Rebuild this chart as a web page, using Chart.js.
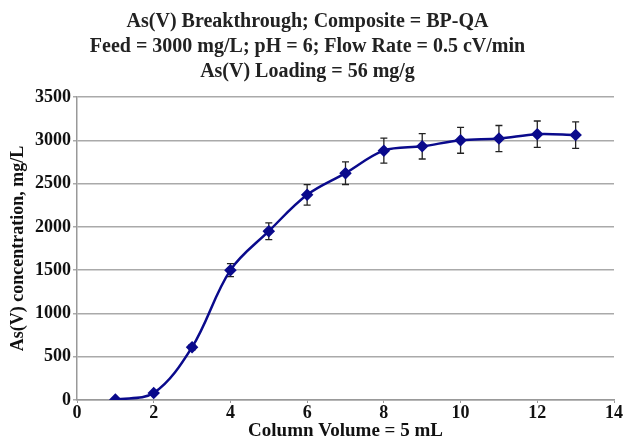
<!DOCTYPE html>
<html>
<head>
<meta charset="utf-8">
<script src="https://cdn.jsdelivr.net/npm/chart.js@4.4.1/dist/chart.umd.min.js"></script>
<style>
  html, body { margin: 0; padding: 0; background: #fff; }
  #wrap { width: 623px; height: 440px; }
</style>
</head>
<body>
<div id="wrap"><canvas id="breakChart" width="623" height="440"></canvas></div>
<script>
// column volumes and measured As(V) concentration (mg/L)
var columnVolumes = [1, 2, 3, 4, 5, 6, 7, 8, 9, 10, 11, 12, 13];
var concentration = [5, 80, 610, 1500, 1950, 2370, 2620, 2880, 2930, 3000, 3020, 3070, 3060];
// +/- error for each point
var errors = [0, 4, 30, 75, 97, 118, 131, 144, 146, 150, 151, 153, 153];

var titleLines = [
    'As(V) Breakthrough; Composite = BP-QA',
    'Feed = 3000 mg/L; pH = 6; Flow Rate = 0.5 cV/min',
    'As(V) Loading = 56 mg/g'
];

var serif = "'Liberation Serif', 'Times New Roman', serif";

// draws the vertical error bars using the chart's scales
var errorBars = {
    id: 'errorBars',
    beforeDatasetsDraw: function(chart) {
        var ctx = chart.ctx;
        var xs = chart.scales.x, ys = chart.scales.y;
        ctx.save();
        ctx.strokeStyle = '#222';
        ctx.lineWidth = 1.3;
        for (var i = 0; i < columnVolumes.length; i++) {
            if (!errors[i]) continue;
            var px = xs.getPixelForValue(columnVolumes[i]);
            var top = ys.getPixelForValue(concentration[i] + errors[i]);
            var bot = ys.getPixelForValue(concentration[i] - errors[i]);
            ctx.beginPath();
            ctx.moveTo(px, top); ctx.lineTo(px, bot);
            ctx.moveTo(px - 3.5, top); ctx.lineTo(px + 3.5, top);
            ctx.moveTo(px - 3.5, bot); ctx.lineTo(px + 3.5, bot);
            ctx.stroke();
        }
        ctx.restore();
    }
};

var ctx = document.getElementById('breakChart').getContext('2d');
var chart = new Chart(ctx, {
    type: 'line',
    data: {
        datasets: [{
            data: columnVolumes.map(function(v, i) { return { x: v, y: concentration[i] }; }),
            borderColor: '#0a0a8c',
            backgroundColor: '#0a0a8c',
            borderWidth: 2.5,
            pointStyle: 'rectRot',
            pointRadius: 4.5,
            tension: 0.35,
            fill: false
        }]
    },
    options: {
        responsive: false,
        animation: false,
        layout: { padding: { left: 0, right: 8, top: 0, bottom: 0 } },
        plugins: {
            legend: { display: false },
            tooltip: { enabled: false },
            title: {
                display: true,
                text: titleLines,
                color: '#222',
                font: { family: serif, size: 20, weight: 'bold', lineHeight: 1.25 },
                padding: { top: 9, bottom: 13 }
            }
        },
        scales: {
            x: {
                type: 'linear',
                min: 0,
                max: 14,
                ticks: {
                    stepSize: 2,
                    color: '#111',
                    padding: 0,
                    font: { family: serif, size: 18, weight: 'bold' }
                },
                grid: { drawOnChartArea: false, drawTicks: true, tickLength: 3, color: '#999' },
                border: { color: '#999', width: 1.5 },
                title: {
                    display: true,
                    text: 'Column Volume = 5 mL',
                    color: '#111',
                    padding: { top: 0, bottom: -1 },
                    font: { family: serif, size: 19, weight: 'bold', lineHeight: 1 }
                },
                afterFit: function(s) { s.height = 40; }
            },
            y: {
                min: 0,
                max: 3500,
                ticks: {
                    stepSize: 500,
                    color: '#111',
                    padding: 2,
                    font: { family: serif, size: 18, weight: 'bold' },
                    callback: function(v) { return String(v); }
                },
                grid: { color: '#aaa', lineWidth: 1.5, tickLength: 4 },
                border: { color: '#999', width: 1.5 },
                title: {
                    display: true,
                    text: 'As(V) concentration, mg/L',
                    color: '#111',
                    padding: { top: 8, bottom: 0 },
                    font: { family: serif, size: 18, weight: 'bold' }
                },
                afterFit: function(s) { s.width = 77; }
            }
        }
    },
    plugins: [errorBars]
});
</script>
</body>
</html>
